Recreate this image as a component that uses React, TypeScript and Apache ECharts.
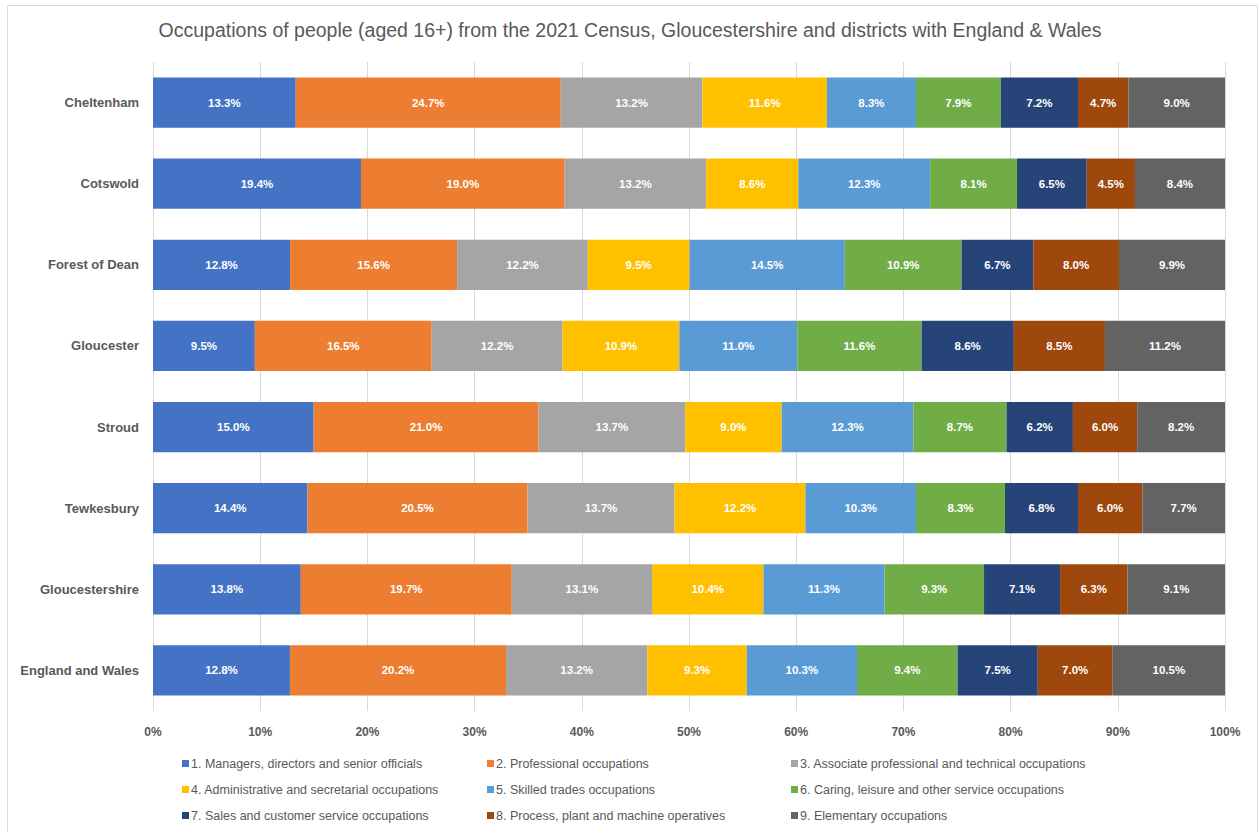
import React, { useEffect, useRef } from "react";
import * as echarts from "echarts";

const categories = [
  "Cheltenham",
  "Cotswold",
  "Forest of Dean",
  "Gloucester",
  "Stroud",
  "Tewkesbury",
  "Gloucestershire",
  "England and Wales",
];

const seriesNames = [
  "1. Managers, directors and senior officials",
  "2. Professional occupations",
  "3. Associate professional and technical occupations",
  "4. Administrative and secretarial occupations",
  "5. Skilled trades occupations",
  "6. Caring, leisure and other service occupations",
  "7. Sales and customer service occupations",
  "8. Process, plant and machine operatives",
  "9. Elementary occupations",
];

const managers = [13.3, 19.4, 12.8, 9.5, 15.0, 14.4, 13.8, 12.8];
const professional = [24.7, 19.0, 15.6, 16.5, 21.0, 20.5, 19.7, 20.2];
const associate = [13.2, 13.2, 12.2, 12.2, 13.7, 13.7, 13.1, 13.2];
const administrative = [11.6, 8.6, 9.5, 10.9, 9.0, 12.2, 10.4, 9.3];
const skilledTrades = [8.3, 12.3, 14.5, 11.0, 12.3, 10.3, 11.3, 10.3];
const caring = [7.9, 8.1, 10.9, 11.6, 8.7, 8.3, 9.3, 9.4];
const sales = [7.2, 6.5, 6.7, 8.6, 6.2, 6.8, 7.1, 7.5];
const process = [4.7, 4.5, 8.0, 8.5, 6.0, 6.0, 6.3, 7.0];
const elementary = [9.0, 8.4, 9.9, 11.2, 8.2, 7.7, 9.1, 10.5];

const seriesValues = [
  managers,
  professional,
  associate,
  administrative,
  skilledTrades,
  caring,
  sales,
  process,
  elementary,
];

const colors = [
  "#4472C4",
  "#ED7D31",
  "#A5A5A5",
  "#FFC000",
  "#5B9BD5",
  "#70AD47",
  "#264478",
  "#9E480E",
  "#636363",
];

const xTicks = { min: 0, max: 100, interval: 10 };

const FONT = "'Liberation Sans', Arial, sans-serif";
const TEXT_COLOR = "#595959";

export default function App() {
  const ref = useRef<HTMLDivElement>(null);

  useEffect(() => {
    if (!ref.current) return;
    const chart = echarts.init(ref.current, null, { renderer: "svg" });

    const rowSums = categories.map((_, i) =>
      seriesValues.reduce((s, arr) => s + arr[i], 0)
    );

    const series = seriesNames.map((name, si) => ({
      name,
      type: "bar",
      stack: "total",
      barCategoryGap: "38%",
      itemStyle: { color: colors[si] },
      label: {
        show: true,
        position: "inside",
        color: "#ffffff",
        fontWeight: "bold",
        fontSize: 11.5,
        fontFamily: FONT,
        formatter: (p: any) => seriesValues[si][p.dataIndex].toFixed(1) + "%",
      },
      emphasis: { disabled: true },
      data: seriesValues[si].map((v, i) => (v / rowSums[i]) * 100),
    }));

    const legendCols = [0, 1, 2].map((c) => ({
      orient: "vertical",
      left: [182, 487, 791][c],
      top: 757,
      itemGap: 13,
      itemWidth: 7,
      itemHeight: 7,
      icon: "rect",
      selectedMode: false,
      padding: 0,
      textStyle: { fontSize: 12.5, color: TEXT_COLOR, fontFamily: FONT, padding: [0, 0, 0, -3] },
      data: [seriesNames[c], seriesNames[c + 3], seriesNames[c + 6]],
    }));

    chart.setOption({
      animation: false,
      backgroundColor: "#ffffff",
      textStyle: { fontFamily: FONT },
      title: {
        text: "Occupations of people (aged 16+) from the 2021 Census, Gloucestershire and districts with England & Wales",
        left: "center",
        top: 15,
        textStyle: {
          fontSize: 19.5,
          fontWeight: "normal",
          color: TEXT_COLOR,
          fontFamily: FONT,
        },
      },
      legend: legendCols,
      grid: { left: 153, right: 35, top: 62, height: 649, containLabel: false },
      xAxis: {
        type: "value",
        min: xTicks.min,
        max: xTicks.max,
        interval: xTicks.interval,
        axisLine: { show: false },
        axisTick: { show: false },
        splitLine: { show: true, lineStyle: { color: "#d9d9d9", width: 1 } },
        axisLabel: {
          formatter: "{value}%",
          color: TEXT_COLOR,
          fontWeight: "bold",
          fontSize: 12,
          margin: 15,
          fontFamily: FONT,
        },
      },
      yAxis: {
        type: "category",
        inverse: true,
        data: categories,
        axisLine: { show: false },
        axisTick: { show: false },
        axisLabel: {
          color: TEXT_COLOR,
          fontWeight: "bold",
          fontSize: 13,
          margin: 14,
          fontFamily: FONT,
        },
      },
      graphic: [
        {
          type: "rect",
          shape: { x: 7.5, y: 5.5, width: 1250, height: 840 },
          style: { fill: "none", stroke: "#d9d9d9", lineWidth: 1 },
          silent: true,
        },
      ],
      series,
    });

    return () => chart.dispose();
  }, []);

  return (
    <div
      ref={ref}
      style={{ position: "fixed", left: 0, top: 0, width: 1260, height: 832 }}
    />
  );
}
